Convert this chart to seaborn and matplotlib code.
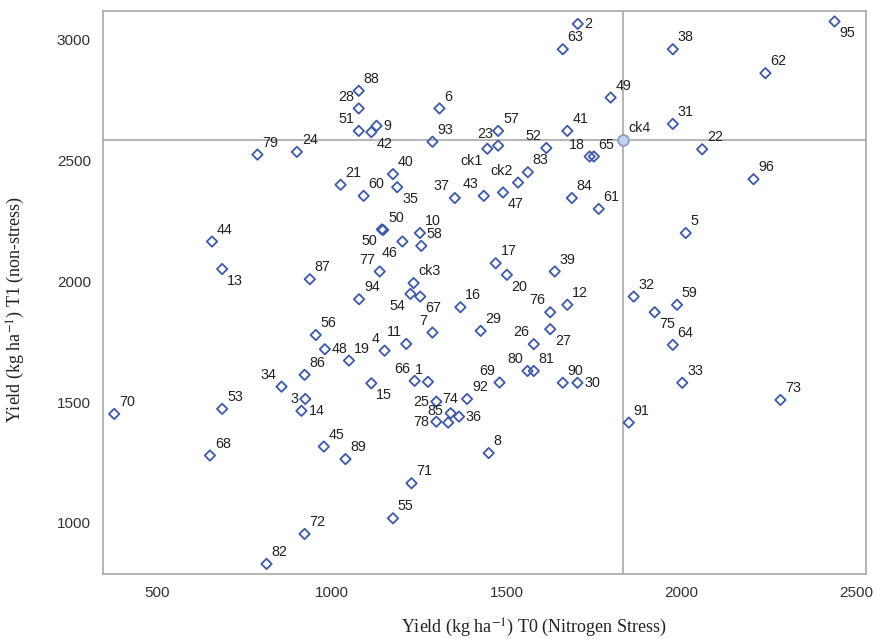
import matplotlib
matplotlib.use("Agg")
import matplotlib.pyplot as plt
import seaborn as sns
import pandas as pd

# genotype labels and yields
genotypes = ["2", "63", "38", "95", "62", "88", "28", "51", "42", "9",
             "6", "93", "57", "23", "ck1", "41", "49", "31", "ck4", "52",
             "18", "65", "22", "79", "24", "21", "40", "60", "35", "37",
             "43", "ck2", "83", "47", "84", "61", "96", "44", "13", "50",
             "50", "10", "58", "46", "77", "87", "ck3", "54", "67", "94",
             "16", "17", "20", "39", "12", "76", "27", "26", "80", "81",
             "90", "30", "32", "75", "59", "64", "5", "33", "73", "7",
             "29", "56", "11", "4", "19", "48", "86", "66", "1", "15",
             "69", "92", "34", "3", "14", "25", "74", "85", "78", "36",
             "70", "53", "68", "45", "89", "71", "55", "72", "82", "8",
             "91"]
yield_t0 = [1703, 1660, 1975, 2438, 2240, 1076, 1076, 1076, 1112, 1127,
            1307, 1287, 1475, 1475, 1444, 1673, 1797, 1975, 1833, 1613,
            1737, 1749, 2059, 786, 899, 1024, 1174, 1090, 1186, 1351,
            1434, 1532, 1560, 1489, 1686, 1763, 2206, 656, 685, 1146,
            1142, 1251, 1255, 1201, 1136, 936, 1233, 1224, 1252, 1077,
            1367, 1468, 1500, 1637, 1673, 1624, 1624, 1577, 1559, 1577,
            1660, 1702, 1863, 1923, 1987, 1975, 2012, 2002, 2283, 1287,
            1425, 953, 1212, 1150, 1048, 979, 921, 1236, 1274, 1112,
            1479, 1386, 855, 923, 912, 1298, 1339, 1332, 1298, 1363,
            376, 685, 650, 976, 1038, 1227, 1174, 921, 812, 1448,
            1849]
yield_t1 = [3066, 2961, 2961, 3076, 2862, 2789, 2716, 2623, 2618, 2644,
            2716, 2578, 2623, 2562, 2549, 2623, 2761, 2652, 2586, 2552,
            2517, 2517, 2547, 2525, 2536, 2400, 2444, 2354, 2390, 2345,
            2354, 2409, 2452, 2368, 2345, 2300, 2423, 2165, 2051, 2213,
            2215, 2200, 2147, 2165, 2041, 2009, 1993, 1948, 1937, 1926,
            1893, 2075, 2027, 2041, 1903, 1872, 1802, 1740, 1629, 1629,
            1580, 1580, 1937, 1872, 1903, 1737, 2200, 1580, 1509, 1788,
            1795, 1778, 1741, 1713, 1672, 1719, 1613, 1588, 1584, 1578,
            1581, 1513, 1564, 1513, 1464, 1502, 1454, 1415, 1419, 1440,
            1451, 1472, 1279, 1316, 1264, 1164, 1019, 954, 830, 1289,
            1415]
mean_t0 = 1833
mean_t1 = 2586

# where each label sits around its marker
label_side = ["r", "ur", "ur", "lr", "ur", "ur", "ul", "ul", "lr", "r",
              "ur", "ur", "ur", "ul", "ll", "ur", "ur", "ur", "ur", "ul",
              "ul", "ur", "ur", "ur", "ur", "ur", "ur", "ur", "lr", "ul",
              "ul", "ul", "ur", "lr", "ur", "ur", "ur", "ur", "lr", "ur",
              "ll", "ur", "ur", "ll", "ul", "ur", "ur", "ll", "lr", "ur",
              "ur", "ur", "lr", "ur", "ur", "ul", "lr", "ul", "ul", "ur",
              "ur", "r", "ur", "lr", "ur", "ur", "ur", "ur", "ur", "ul",
              "ur", "ur", "ul", "ul", "ur", "r", "ur", "ul", "ul", "lr",
              "ul", "ur", "ul", "l", "r", "l", "u", "ul", "l", "r",
              "ur", "ur", "ur", "ur", "ur", "ur", "ur", "ur", "ur", "ur",
              "ur"]
sides = {"ur": (3.5, 3.5, "left", "bottom"), "ul": (-3.5, 3.5, "right", "bottom"),
         "lr": (3.5, -3.5, "left", "top"), "ll": (-3.5, -3.5, "right", "top"),
         "r": (5, 0, "left", "center"), "l": (-5, 0, "right", "center"),
         "u": (0, 5, "center", "bottom")}

df = pd.DataFrame({"Genotype": genotypes, "T0": yield_t0, "T1": yield_t1})
checks = df[df["Genotype"] == "ck4"]
others = df[df["Genotype"] != "ck4"]

sns.set_style("white")
plt.rcParams["font.family"] = ["Liberation Sans", "DejaVu Sans"]
plt.rcParams["mathtext.fontset"] = "stix"

fig = plt.figure(figsize=(8.76, 6.39), dpi=100)
ax = fig.add_axes([0.118, 0.102, 0.871, 0.881])

blue = "#3d5aa6"
grey = "#a8a8a8"

ax.axvline(mean_t0, color=grey, lw=1.2, zorder=1)
ax.axhline(mean_t1, color=grey, lw=1.2, zorder=1)

sns.scatterplot(data=others, x="T0", y="T1", marker="D", s=28,
                facecolor="none", edgecolor=blue, linewidth=1.3, ax=ax, zorder=3)
sns.scatterplot(data=checks, x="T0", y="T1", marker="o", s=60,
                facecolor="#c5d0ea", edgecolor="#8a9cc8", linewidth=1.3, ax=ax, zorder=3)

for g, x, y, side in zip(genotypes, yield_t0, yield_t1, label_side):
    dx, dy, ha, va = sides[side]
    ax.annotate(g, (x, y), xytext=(dx, dy), textcoords="offset points",
                ha=ha, va=va, fontsize=10.3, color="#222222", zorder=4)

ax.set_xlim(345, 2529)
ax.set_ylim(789, 3120)
ax.set_xticks([500, 1000, 1500, 2000, 2500])
ax.set_yticks([1000, 1500, 2000, 2500, 3000])
ax.tick_params(axis="both", direction="out", length=5, width=1, color=grey,
               labelsize=11, labelcolor="#333333", pad=4)
for sp in ax.spines.values():
    sp.set_color(grey)
    sp.set_linewidth(1.2)

ax.set_xlabel(r"Yield (kg ha$^{-1}$) T0 (Nitrogen Stress)",
              family="Liberation Serif", fontsize=13, color="#222222")
ax.set_ylabel(r"Yield (kg ha$^{-1}$) T1 (non-stress)",
              family="Liberation Serif", fontsize=13, color="#222222")
ax.xaxis.set_label_coords(0.564, -0.076)
ax.yaxis.set_label_coords(-0.1, 0.469)

fig.savefig("out.png", dpi=100)
